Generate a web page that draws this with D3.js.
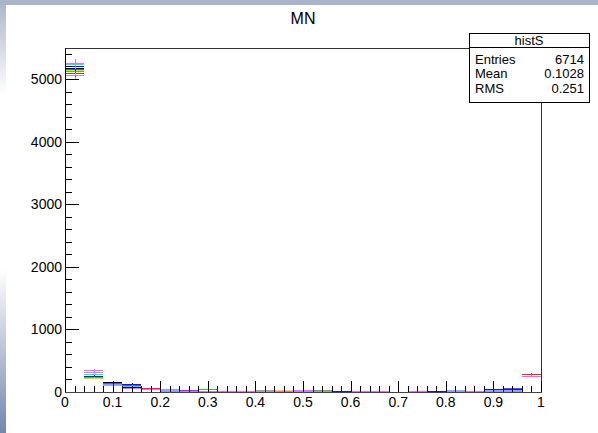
<!DOCTYPE html>
<html>
<head>
<meta charset="utf-8">
<script src="https://cdn.jsdelivr.net/npm/d3@7"></script>
<style>
  html, body { margin: 0; padding: 0; background: #fff; }
  svg { display: block; font-family: "Liberation Sans", Arial, sans-serif; }
</style>
</head>
<body>
<div id="chart"></div>
<script>
const width = 598;
const height = 433;

// 25 bins of 0.04 from 0 to 1
const binEdges = d3.range(0, 26).map(i => i * 0.04);

// one histogram per colour (bin contents)
const seriesNames = ["lavender", "red", "green", "lightgreen", "yellow", "black", "purple", "blue", "cyan", "magenta"];
const seriesColors = ["#9a9cf0", "#ff2020", "#18e018", "#59d454", "#e8e000", "#000000", "#5954d9", "#1010ff", "#20e8e8", "#ff60ff"];

const lavender   = [5068, 314, 125, 85, 44, 48, 20, 14, 10, 8, 12, 10, 35, 12, 10, 8, 10, 4, 12, 8, 12, 8, 35, 30, 250];
const red        = [5100, 240, 130, 72, 70, 20, 12, 10, 8, 5, 8, 6, 8, 6, 5, 6, 5, 3, 5, 4, 6, 5, 15, 20, 282];
const green      = [5127, 245, 140, 80, 40, 22, 14, 45, 10, 6, 12, 10, 10, 30, 8, 6, 20, 4, 8, 5, 10, 8, 54, 30, 252];
const lightgreen = [5140, 250, 145, 90, 46, 30, 16, 20, 10, 8, 38, 10, 12, 14, 8, 8, 12, 4, 10, 6, 12, 8, 40, 35, 255];
const yellow     = [5147, 230, 143, 70, 54, 24, 12, 12, 8, 6, 15, 25, 10, 8, 6, 6, 6, 3, 6, 5, 8, 6, 25, 25, 248];
const black      = [5179, 250, 165, 75, 45, 25, 15, 12, 8, 6, 10, 8, 12, 15, 6, 8, 6, 4, 6, 5, 8, 6, 20, 25, 255];
const purple     = [5160, 255, 150, 110, 48, 32, 35, 16, 12, 10, 12, 10, 15, 15, 12, 10, 10, 5, 12, 8, 14, 10, 45, 70, 256];
const blue       = [5200, 262, 123, 126, 42, 28, 18, 14, 10, 15, 12, 8, 10, 12, 15, 10, 8, 4, 20, 10, 12, 10, 45, 40, 250];
const cyan       = [5232, 290, 118, 98, 40, 26, 14, 12, 10, 6, 10, 8, 10, 10, 6, 8, 8, 4, 8, 6, 25, 8, 30, 30, 252];
const magenta    = [5248, 345, 120, 70, 44, 20, 20, 14, 20, 8, 8, 10, 10, 8, 6, 15, 8, 4, 8, 6, 10, 20, 20, 20, 250];

const seriesValues = [lavender, red, green, lightgreen, yellow, black, purple, blue, cyan, magenta];

const xTicks = [0, 0.1, 0.2, 0.3, 0.4, 0.5, 0.6, 0.7, 0.8, 0.9, 1];
const yTicks = [0, 1000, 2000, 3000, 4000, 5000];

const statsTitle = "histS";
const statsLabels = ["Entries", "Mean", "RMS"];
const statsValues = ["6714", "0.1028", "0.251"];

// frame
const margin = { left: 65, right: 57, top: 48, bottom: 41 };
const fx0 = margin.left, fx1 = width - margin.right;
const fy0 = margin.top, fy1 = height - margin.bottom;

const x = d3.scaleLinear().domain([0, 1]).range([fx0, fx1]);
const y = d3.scaleLinear().domain([0, 5495]).range([fy1, fy0]);

const svg = d3.select("#chart").append("svg")
  .attr("width", width)
  .attr("height", height);

// window background strips
const defs = svg.append("defs");
const grad = defs.append("linearGradient")
  .attr("id", "side").attr("x1", 0).attr("y1", 0).attr("x2", 0).attr("y2", 1);
grad.append("stop").attr("offset", 0).attr("stop-color", "#a9b4c9");
grad.append("stop").attr("offset", 0.22).attr("stop-color", "#ffffff");
grad.append("stop").attr("offset", 0.62).attr("stop-color", "#ffffff");
grad.append("stop").attr("offset", 1).attr("stop-color", "#7586b0");

svg.append("rect").attr("x", 0).attr("y", 0).attr("width", 6).attr("height", height).attr("fill", "url(#side)");
svg.append("rect").attr("x", 0).attr("y", 0).attr("width", width).attr("height", 5).attr("fill", "#a9b4c9");

// title
svg.append("text")
  .attr("x", (fx0 + fx1) / 2)
  .attr("y", 24)
  .attr("text-anchor", "middle")
  .attr("font-size", 16)
  .text("MN");

// frame
svg.append("rect")
  .attr("x", fx0 + 0.5).attr("y", fy0 + 0.5)
  .attr("width", fx1 - fx0).attr("height", fy1 - fy0)
  .attr("fill", "none").attr("stroke", "#333");

// histograms
const hists = svg.append("g").attr("shape-rendering", "crispEdges");
seriesValues.forEach((vals, s) => {
  const g = hists.append("g").attr("stroke", seriesColors[s]).attr("stroke-width", 1);
  const bins = vals.map((v, i) => ({ lo: binEdges[i], hi: binEdges[i + 1], v }));
  g.selectAll("line.h").data(bins).join("line")
    .attr("class", "h")
    .attr("x1", d => x(d.lo)).attr("x2", d => x(d.hi))
    .attr("y1", d => Math.round(y(d.v)) + 0.5).attr("y2", d => Math.round(y(d.v)) + 0.5);
  g.selectAll("line.e").data(bins).join("line")
    .attr("class", "e")
    .attr("x1", d => Math.round(x((d.lo + d.hi) / 2)) + 0.5)
    .attr("x2", d => Math.round(x((d.lo + d.hi) / 2)) + 0.5)
    .attr("y1", d => y(d.v + Math.sqrt(d.v)))
    .attr("y2", d => Math.min(fy1, y(d.v - Math.sqrt(d.v))));
});

// y axis
const yAxis = svg.append("g").attr("shape-rendering", "crispEdges");
yAxis.append("line")
  .attr("x1", fx0 + 0.5).attr("x2", fx0 + 0.5)
  .attr("y1", fy0).attr("y2", fy1 + 1).attr("stroke", "#000");
const yMinor = d3.range(0, 5401, 200);
yAxis.selectAll("line.t").data(yMinor).join("line")
  .attr("class", "t")
  .attr("x1", fx0)
  .attr("x2", d => fx0 + (d % 1000 === 0 ? 14 : 7))
  .attr("y1", d => Math.round(y(d)) + 0.5)
  .attr("y2", d => Math.round(y(d)) + 0.5)
  .attr("stroke", "#000");
yAxis.selectAll("text").data(yTicks).join("text")
  .attr("x", fx0 - 3)
  .attr("y", d => y(d))
  .attr("dy", "0.36em")
  .attr("text-anchor", "end")
  .attr("font-size", 14)
  .text(d => d);

// x axis
const xAxis = svg.append("g").attr("shape-rendering", "crispEdges");
xAxis.append("line")
  .attr("x1", fx0).attr("x2", fx1 + 1)
  .attr("y1", fy1 + 0.5).attr("y2", fy1 + 0.5).attr("stroke", "#444");
const xMinor = d3.range(0, 51).map(i => i / 50);
xAxis.selectAll("line.t").data(xMinor).join("line")
  .attr("class", "t")
  .attr("x1", d => Math.round(x(d)) + 0.5)
  .attr("x2", d => Math.round(x(d)) + 0.5)
  .attr("y1", fy1)
  .attr("y2", (d, i) => fy1 - (i % 5 === 0 ? 11 : 6))
  .attr("stroke", "#000");
xAxis.selectAll("text").data(xTicks).join("text")
  .attr("x", d => x(d))
  .attr("y", fy1 + 15)
  .attr("text-anchor", "middle")
  .attr("font-size", 14)
  .text(d => d === 0 || d === 1 ? d : d.toFixed(1));

// stats box
const sb = { x: 469, y: 33, w: 120, h: 69, head: 14 };
const stats = svg.append("g").attr("shape-rendering", "crispEdges");
stats.append("rect")
  .attr("x", sb.x + 0.5).attr("y", sb.y + 0.5)
  .attr("width", sb.w).attr("height", sb.h)
  .attr("fill", "#fff").attr("stroke", "#000");
stats.append("line")
  .attr("x1", sb.x).attr("x2", sb.x + sb.w)
  .attr("y1", sb.y + sb.head + 0.5).attr("y2", sb.y + sb.head + 0.5)
  .attr("stroke", "#000");
stats.append("text")
  .attr("x", sb.x + sb.w / 2).attr("y", sb.y + 12)
  .attr("text-anchor", "middle").attr("font-size", 13)
  .text(statsTitle);
const rowY = d3.scaleLinear().domain([0, 2]).range([sb.y + 30.5, sb.y + 59.5]);
stats.selectAll("text.l").data(statsLabels).join("text")
  .attr("class", "l")
  .attr("x", sb.x + 6).attr("y", (d, i) => rowY(i))
  .attr("font-size", 13).text(d => d);
stats.selectAll("text.v").data(statsValues).join("text")
  .attr("class", "v")
  .attr("x", sb.x + sb.w - 5).attr("y", (d, i) => rowY(i))
  .attr("text-anchor", "end")
  .attr("font-size", 13).text(d => d);
</script>
</body>
</html>
